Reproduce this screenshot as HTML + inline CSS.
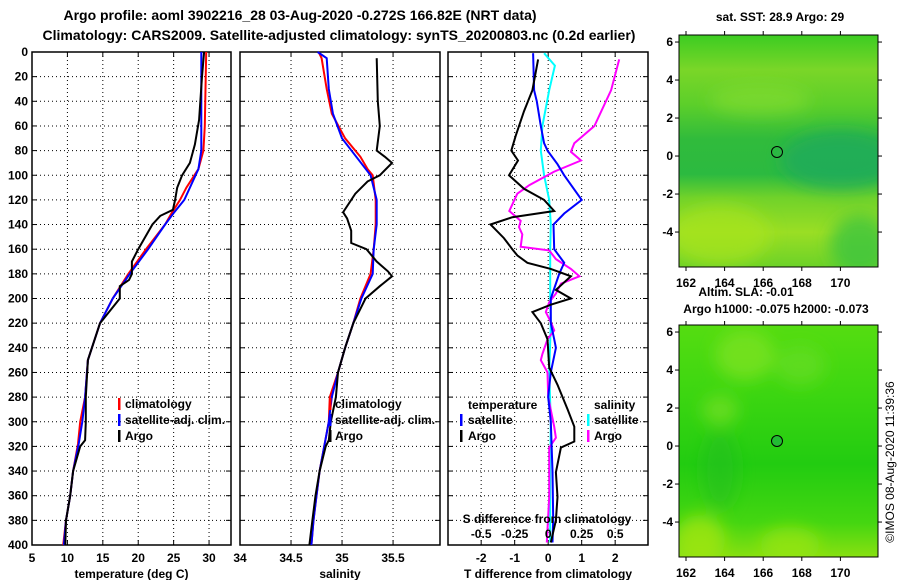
<!DOCTYPE html>
<html><head><meta charset="utf-8"><style>
body{margin:0;background:#fff}
svg{display:block}
text{font-family:"Liberation Sans",sans-serif;font-weight:bold;fill:#000}
</style></head><body>
<svg id="fig" width="900" height="580" viewBox="0 0 900 580" xmlns="http://www.w3.org/2000/svg">
<defs>
<linearGradient id="sstg" x1="0" y1="0" x2="0" y2="1">
<stop offset="0" stop-color="#3ccc22"/><stop offset="0.15" stop-color="#7ad628"/><stop offset="0.3" stop-color="#5ccf2a"/>
<stop offset="0.45" stop-color="#30bb3c"/><stop offset="0.6" stop-color="#2cba40"/><stop offset="0.7" stop-color="#70d22a"/>
<stop offset="0.85" stop-color="#9ade24"/><stop offset="1" stop-color="#6cd228"/></linearGradient>
<linearGradient id="slag" x1="0" y1="0" x2="0" y2="1">
<stop offset="0" stop-color="#55dd11"/><stop offset="0.3" stop-color="#3cd611"/><stop offset="0.6" stop-color="#22cc11"/>
<stop offset="0.85" stop-color="#44d611"/><stop offset="1" stop-color="#88e011"/></linearGradient>
<filter id="bl"><feGaussianBlur stdDeviation="8"/></filter>
<clipPath id="c1"><rect x="679" y="35" width="199" height="232"/></clipPath>
<clipPath id="c2"><rect x="679" y="325" width="199" height="232"/></clipPath>
</defs>
<text x="300" y="20" font-size="14" text-anchor="middle">Argo profile: aoml 3902216_28 03-Aug-2020 -0.272S 166.82E (NRT data)</text>
<text x="339" y="40" font-size="14" text-anchor="middle">Climatology: CARS2009. Satellite-adjusted climatology: synTS_20200803.nc (0.2d earlier)</text>

<g>
<rect x="679" y="35" width="199" height="232" fill="url(#sstg)"/>
<g clip-path="url(#c1)" filter="url(#bl)">
<ellipse cx="840" cy="160" rx="60" ry="30" fill="#1aa860" opacity="0.7"/>
<ellipse cx="760" cy="100" rx="50" ry="15" fill="#8ee030" opacity="0.5"/>
<ellipse cx="720" cy="235" rx="50" ry="30" fill="#a8e420" opacity="0.7"/>
<ellipse cx="860" cy="245" rx="30" ry="30" fill="#3cc440" opacity="0.8"/>
</g>
<rect x="679" y="35" width="199" height="232" fill="none" stroke="#000"/>
<circle cx="777" cy="152" r="5.5" fill="none" stroke="#000"/>
</g>
<text x="780" y="21" font-size="12" text-anchor="middle">sat. SST: 28.9 Argo: 29</text>
<text x="746" y="296" font-size="12" text-anchor="middle">Altim. SLA: -0.01</text>
<text x="776" y="313" font-size="12" text-anchor="middle">Argo h1000: -0.075 h2000: -0.073</text>
<g>
<rect x="679" y="325" width="199" height="232" fill="url(#slag)"/>
<g clip-path="url(#c2)" filter="url(#bl)">
<ellipse cx="745" cy="355" rx="30" ry="25" fill="#7ae222" opacity="0.8"/>
<ellipse cx="720" cy="410" rx="18" ry="15" fill="#77e022" opacity="0.7"/>
<ellipse cx="800" cy="365" rx="25" ry="20" fill="#66dd22" opacity="0.7"/>
<ellipse cx="700" cy="540" rx="25" ry="25" fill="#a0e60f" opacity="0.8"/>
<ellipse cx="790" cy="545" rx="30" ry="18" fill="#99e511" opacity="0.7"/>
<ellipse cx="720" cy="470" rx="18" ry="40" fill="#22bb22" opacity="0.5"/>
</g>
<rect x="679" y="325" width="199" height="232" fill="none" stroke="#000"/>
<circle cx="777" cy="441" r="5.5" fill="#22bb33" stroke="#000"/>
</g>
<text transform="translate(894,462) rotate(-90)" font-size="12" text-anchor="middle" style="font-weight:normal">©IMOS 08-Aug-2020 11:39:36</text>
<g id="plots"></g>
</svg>
<script>
// ---- data ----
const depthTicks=[0,20,40,60,80,100,120,140,160,180,200,220,240,260,280,300,320,340,360,380,400];
const tempTicks=[5,10,15,20,25,30];
const salTicks=[34,34.5,35,35.5];
const tdiffTicks=[-2,-1,0,1,2];
const sdiffTicks=[-0.5,-0.25,0,0.25,0.5];
const mapLonTicks=[162,164,166,168,170];
const mapLatTicks=[6,4,2,0,-2,-4];

const tClimD=[0,60,80,95,110,120,130,140,160,180,200,220,250,280,300,318,340,360,380,400];
const tClimV=[29.6,29.4,29.2,28.5,26.8,25.9,24.8,23.8,21.1,18.6,16.4,14.6,12.9,12.5,11.8,11.5,10.8,10.4,9.8,9.4];
const tSatD=[0,80,95,120,130,140,160,180,200,220,250,280,300,318,340,360,380,400];
const tSatV=[28.9,28.9,28.5,26.5,25.1,23.8,21.4,18.8,16.4,14.6,12.9,12.5,12.1,11.6,10.8,10.4,9.8,9.5];
const tArgoD=[0,20,55,75,90,100,110,120,128,133,140,150,160,170,180,185,190,200,220,250,280,300,315,320,340,360,380,400];
const tArgoV=[29.3,29.0,28.6,28.0,27.3,26.2,25.5,25.2,24.9,23.1,22.0,21.0,20.0,19.1,19.1,18.7,17.4,17.4,14.6,12.9,12.6,12.6,12.5,11.8,10.8,10.4,9.8,9.7];

const sClimD=[0,5,30,50,70,85,95,100,120,140,160,180,200,220,240,260,280,300,340,360,380,400];
const sClimV=[34.77,34.80,34.85,34.90,35.03,35.18,35.25,35.30,35.33,35.33,35.31,35.28,35.18,35.11,35.03,34.96,34.88,34.87,34.78,34.75,34.72,34.70];
const sSatD=[0,5,30,50,70,85,100,120,140,160,180,200,220,240,260,280,300,340,360,380,400];
const sSatV=[34.76,34.85,34.87,34.91,35.00,35.14,35.28,35.34,35.34,35.31,35.30,35.19,35.11,35.03,34.96,34.90,34.87,34.78,34.75,34.72,34.70];
const sArgoD=[5,40,60,80,85,90,100,105,115,130,135,145,155,160,170,178,182,190,200,220,240,260,280,300,315,320,340,360,380,400];
const sArgoV=[35.34,35.35,35.37,35.34,35.42,35.49,35.37,35.25,35.13,35.01,35.05,35.09,35.09,35.24,35.34,35.45,35.49,35.37,35.23,35.11,35.03,34.96,34.94,34.89,34.87,34.84,34.78,34.74,34.71,34.68];

const dTSatD=[1,31,40,60,74,80,91,100,120,131,140,160,171,180,200,220,233,240,260,280,300,340,380,398];
const dTSatV=[-0.45,-0.42,-0.34,-0.22,-0.12,-0.02,0.28,0.48,1.0,0.48,0.16,0.18,0.48,0.33,0.08,0.08,0.18,0.23,0.08,0,0.08,0.13,0.15,0.13];
const dTArgoD=[6,31,48,68,80,88,100,111,120,129,134,140,151,160,165,171,176,182,193,200,205,211,220,233,256,270,290,304,316,321,341,361,380,398];
const dTArgoV=[-0.3,-0.47,-0.72,-0.97,-1.1,-0.9,-1.17,-0.72,-0.12,0.18,-1.07,-1.72,-1.32,-1.07,-0.92,-0.62,0.08,0.68,0.23,0.68,0.08,-0.47,-0.22,-0.02,0.03,0.28,0.58,0.78,0.78,0.38,0.23,0.28,0.23,0.08];
const dSSatD=[1,11,31,60,80,100,120,140,160,180,200,220,260,300,340,398];
const dSSatV=[-0.03,0.05,0.008,-0.043,-0.055,-0.03,0.008,0.02,0.015,0.015,0.015,0.02,0.008,0.02,0.015,0.015];
const dSArgoD=[6,31,60,74,81,88,97,108,115,129,137,142,148,158,161,168,176,182,188,196,203,211,219,226,233,245,250,260,280,304,313,321,361,398];
const dSArgoV=[0.53,0.47,0.345,0.195,0.17,0.245,0.045,-0.14,-0.23,-0.29,-0.205,-0.218,-0.193,-0.205,0.008,0.058,0.17,0.233,0.095,0.058,0.008,-0.018,0.02,0.045,-0.005,-0.043,-0.055,-0.005,0,0.045,0.058,0.008,0.008,-0.01];

// ---- scales ----
const Y0=52,Y1=545;
const yD=d=>Y0+d/400*(Y1-Y0);
const P1={x0:32,x1:231,lo:5,hi:33.1};
const P2={x0:240,x1:440,lo:34,hi:35.96};
const P3={x0:448,x1:648,lo:-2.99,hi:2.98};
const sx=(p,v)=>p.x0+(v-p.lo)/(p.hi-p.lo)*(p.x1-p.x0);
const sxS=v=>sx(P3,v*4);
const NS='http://www.w3.org/2000/svg';
const root=document.getElementById('plots');
function mk(tag,attrs,parent){const e=document.createElementNS(NS,tag);for(const k in attrs)e.setAttribute(k,attrs[k]);(parent||root).appendChild(e);return e;}
function txt(s,x,y,anchor,size,parent){const t=mk('text',{x:x,y:y,'text-anchor':anchor||'start','font-size':size||12},parent);t.textContent=s;return t;}

function panel(p,name,xt,xfmt,xlabel,showDepth){
  const g=mk('g',{});
  
  
  depthTicks.forEach(d=>{
    if(d>0&&d<400) mk('line',{x1:p.x0,x2:p.x1,y1:yD(d),y2:yD(d),stroke:'#000','stroke-dasharray':'1 3'},g);
    mk('line',{x1:p.x0,x2:p.x0+5,y1:yD(d),y2:yD(d),stroke:'#000'},g);
    mk('line',{x1:p.x1-5,x2:p.x1,y1:yD(d),y2:yD(d),stroke:'#000'},g);
    if(showDepth){const t=txt(String(d),p.x0-4,yD(d)+4,'end',12,g);}
  });
  xt.forEach(v=>{
    const x=sx(p,v);
    if(x>p.x0+1&&x<p.x1-1) mk('line',{x1:x,x2:x,y1:Y0,y2:Y1,stroke:'#000','stroke-dasharray':'1 3'},g);
    mk('line',{x1:x,x2:x,y1:Y1-5,y2:Y1,stroke:'#000'},g);
    mk('line',{x1:x,x2:x,y1:Y0,y2:Y0+5,stroke:'#000'},g);
    const t=txt(xfmt(v),x,Y1+17,'middle',12,g);
    
    
  });
  mk('rect',{x:p.x0,y:Y0,width:p.x1-p.x0,height:Y1-Y0,fill:'none',stroke:'#000','stroke-width':1.5},g);
  const l=txt(xlabel,(p.x0+p.x1)/2,Y1+33,'middle',12,g);
  
  
  return g;
}
function line(D,V,fx,color,name,w){
  const pts=D.map((d,i)=>fx(V[i]).toFixed(1)+','+yD(d).toFixed(1)).join(' ');
  const e=mk('polyline',{points:pts,fill:'none',stroke:color,'stroke-width':w||2});
  
  
}
function legend(x,y,color,label,tx){
  const r=mk('rect',{x:x,y:y-10,width:2.5,height:12,fill:color});
  
  
  const t=txt(label,tx!==undefined?tx:x+7,y,'start',12);
  
  
}

// panel 1
panel(P1,'temperature-panel',tempTicks,v=>String(v),'temperature (deg C)',true);
const t34=txt('34',240,Y1+17,'middle',12);


line(tClimD,tClimV,v=>sx(P1,v),'#ff0000','temp-climatology-line');
line(tSatD,tSatV,v=>sx(P1,v),'#0000ff','temp-satellite-line');
line(tArgoD,tArgoV,v=>sx(P1,v),'#000000','temp-argo-line');
legend(118,408,'#ff0000','climatology',125);
legend(118,424,'#0000ff','satellite-adj. clim.',125);
legend(118,440,'#000000','Argo',125);

// panel 2
panel(P2,'salinity-panel',salTicks.slice(1),v=>String(v),'salinity',false);
line(sClimD,sClimV,v=>sx(P2,v),'#ff0000','sal-climatology-line');
line(sSatD,sSatV,v=>sx(P2,v),'#0000ff','sal-satellite-line');
line(sArgoD,sArgoV,v=>sx(P2,v),'#000000','sal-argo-line');
legend(329,408,'#ff0000','climatology',335);
legend(329,424,'#0000ff','satellite-adj. clim.',335);
legend(329,440,'#000000','Argo',335);

// panel 3
panel(P3,'difference-panel',tdiffTicks,v=>String(v),'T difference from climatology',false);
line(dSSatD,dSSatV,sxS,'#00ffff','sdiff-satellite-line');
line(dSArgoD,dSArgoV,sxS,'#ff00ff','sdiff-argo-line');
line(dTSatD,dTSatV,v=>sx(P3,v),'#0000ff','tdiff-satellite-line');
line(dTArgoD,dTArgoV,v=>sx(P3,v),'#000000','tdiff-argo-line');
const th=txt('temperature',468,409,'start',12);
const sh=txt('salinity',594,409,'start',12);
legend(460,424,'#0000ff','satellite',468);
legend(460,440,'#000000','Argo',468);
legend(587,424,'#00ffff','satellite',594);
legend(587,440,'#ff00ff','Argo',594);
const st=txt('S difference from climatology',547,523,'middle',12);


sdiffTicks.forEach(v=>{const t=txt(String(v),sxS(v),538,'middle',12);});

// map axes
function mapAxes(x0,x1,y0,y1,latTop,latBot){
  const g=mk('g',{});
  
  
  const lx=v=>686+(v-162)*19.3;
  const ly=v=>y0+(latTop-v)/(latTop-latBot)*(y1-y0);
  mapLonTicks.forEach(v=>{mk('line',{x1:lx(v),x2:lx(v),y1:y1,y2:y1+4,stroke:'#000'},g);
    mk('line',{x1:lx(v),x2:lx(v),y1:y0-4,y2:y0,stroke:'#000'},g);
    const t=txt(String(v),lx(v),y1+20,'middle',12,g);});
  mapLatTicks.forEach(v=>{mk('line',{x1:x0-4,x2:x0,y1:ly(v),y2:ly(v),stroke:'#000'},g);mk('line',{x1:x1,x2:x1+4,y1:ly(v),y2:ly(v),stroke:'#000'},g);
    const t=txt(String(v),x0-6,ly(v)+4,'end',12,g);});
}
mapAxes(679,878,35,267,6.37,-5.84);
mapAxes(679,878,325,557,6.37,-5.84);
</script>
</body></html>
